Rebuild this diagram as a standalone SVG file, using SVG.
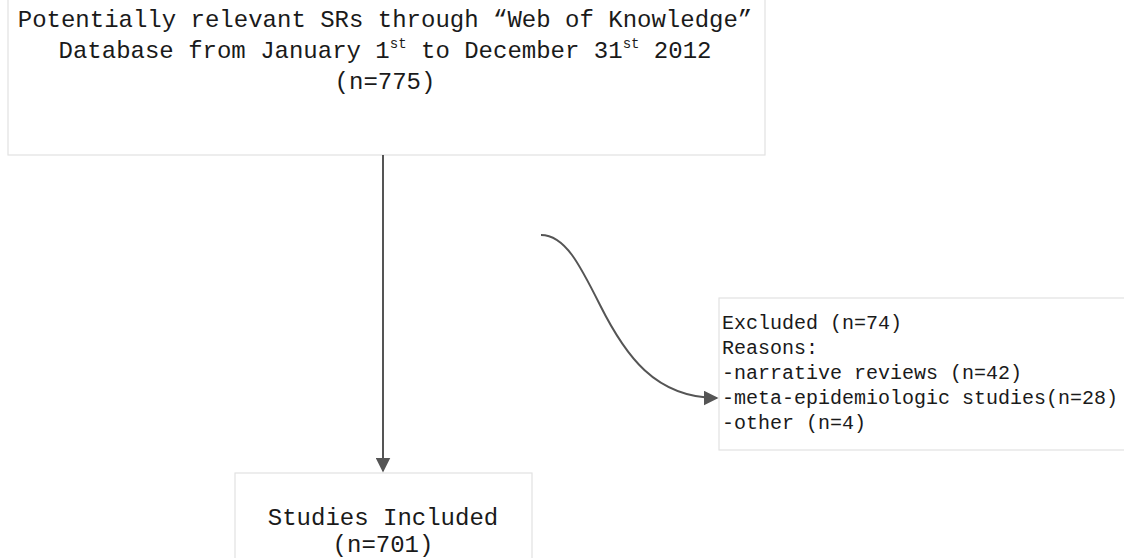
<svg xmlns="http://www.w3.org/2000/svg" width="1124" height="558" viewBox="0 0 1124 558">
<style>
.box{fill:#ffffff;stroke:#e2e2e2;stroke-width:1.2}
.big{font-family:"Liberation Mono","DejaVu Sans Mono",monospace;font-size:24px;fill:#1a1a1a;text-anchor:middle}
.small{font-family:"Liberation Mono","DejaVu Sans Mono",monospace;font-size:20px;fill:#1a1a1a}
.sup{font-size:14px}
.conn{fill:none;stroke:#555555;stroke-width:2}
</style>
<defs>
<marker id="arrb" viewBox="0 0 10 10" refX="9" refY="5" markerWidth="15" markerHeight="15" markerUnits="userSpaceOnUse" orient="auto">
<path d="M0,0 L10,5 L0,10 z" fill="#555555"/>
</marker>
</defs>
<rect width="1124" height="558" fill="#ffffff"/>
<g id="node-source">
<rect class="box" x="8" y="-4" width="757" height="159"/>
<text class="big" x="385" y="27">Potentially relevant SRs through “Web of Knowledge”</text>
<text class="big" x="385" y="58">Database from January 1<tspan class="sup" dy="-10">st</tspan><tspan dy="10"> to December 31</tspan><tspan class="sup" dy="-10">st</tspan><tspan dy="10"> 2012</tspan></text>
<text class="big" x="385" y="89">(n=775)</text>
</g>
<g id="node-excluded">
<rect class="box" x="719" y="298" width="420" height="152"/>
<text class="small" x="722" y="329">Excluded (n=74)</text>
<text class="small" x="722" y="354">Reasons:</text>
<text class="small" x="722" y="379">-narrative reviews (n=42)</text>
<text class="small" x="722" y="404">-meta-epidemiologic studies(n=28)</text>
<text class="small" x="722" y="429">-other (n=4)</text>
</g>
<g id="node-included">
<rect class="box" x="235" y="473" width="297" height="100"/>
<text class="big" x="383" y="525">Studies Included</text>
<text class="big" x="383" y="552">(n=701)</text>
</g>
<g id="connectors">
<path class="conn" d="M383,155 L383,471" marker-end="url(#arrb)"/>
<path class="conn" d="M541,235 C565,235 580,265 600,305 C625,355 655,398 717,398" marker-end="url(#arrb)"/>
</g>
</svg>
